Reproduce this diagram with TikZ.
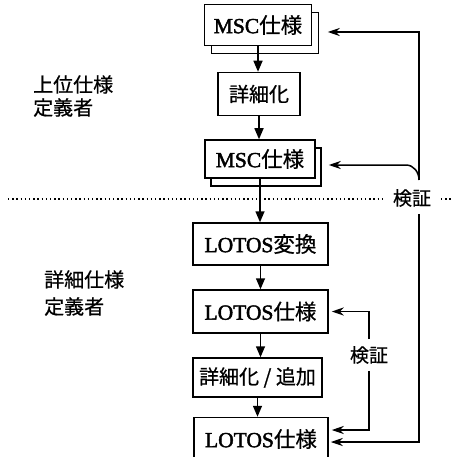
\documentclass[tikz,border=0pt]{standalone}
\usepackage{fontspec}
\setmainfont{Liberation Serif}[FakeBold=2]
\newfontfamily\cjk{Noto Sans CJK JP}[FakeBold=0.6]
\usetikzlibrary{arrows.meta,shadows,calc}
\newcommand\J[1]{{\cjk #1}}
\tikzset{
  base/.style={line width=1.5pt},
  boxnode/.style={base,draw=black,fill=white,inner sep=0pt,
    font=\fontsize{21.5}{24}\selectfont},
  docnode/.style 2 args={boxnode,copy shadow={shadow xshift=#1,shadow yshift=#2,
    fill=white,draw=black,line width=1.5pt}},
  down/.style={base,-{Triangle[length=11pt,width=9pt]}},
  fb/.style={base,-{Stealth[length=12pt,width=8pt,inset=4pt]}},
  kensho/.style={inner sep=7pt,font=\fontsize{19}{22}\selectfont\cjk},
  sidelabel/.style={align=left,anchor=west,inner sep=0pt,
    font=\fontsize{20}{24}\selectfont\cjk},
  dotline/.style={line width=1.6pt,dash pattern=on 1.4pt off 2.8pt}
}
\begin{document}
\begin{tikzpicture}[x=1pt,y=-1pt]
\useasboundingbox (0,0) rectangle (454,457);
\begin{scope}
\clip (0,0) rectangle (454,457);
% left labels
\node[sidelabel] (upper) at (33,96) {上位仕様\\[-1pt]定義者};
\node[sidelabel,font=\fontsize{20}{27}\selectfont\cjk] (lower) at (44,293) {詳細仕様\\定義者};
% dotted separator
\node[kensho] (k1) at (412,198) {検証};
\draw[dotline] (8,199) -- (383,199);
\draw[dotline] (441,199) -- (453,199);
% main boxes
\node[docnode={7pt}{-8pt},minimum width=107pt,minimum height=41pt] (msc1) at (258,25) {MSC\J{仕様}};
\node[boxnode,minimum width=82pt,minimum height=43pt,font=\fontsize{20}{24}\selectfont\cjk] (det1) at (259,94) {詳細化};
\node[docnode={6pt}{-8pt},minimum width=110pt,minimum height=38pt] (msc2) at (260,159) {MSC\J{仕様}};
\node[boxnode,minimum width=135pt,minimum height=42pt] (lt) at (260.5,244) {LOTOS\J{変換}};
\node[boxnode,minimum width=135pt,minimum height=43pt] (ls1) at (260.5,311.5) {LOTOS\J{仕様}};
\node[boxnode,minimum width=129pt,minimum height=39pt,font=\fontsize{20}{24}\selectfont\cjk] (det2) at (257.5,377.5) {詳細化 / 追加};
\node[boxnode,minimum width=134pt,minimum height=43pt] (ls2) at (261,439) {LOTOS\J{仕様}};
% down arrows
\draw[down] (msc1.south) -- (msc1.south |- det1.north);
\draw[down] (det1.south) -- (det1.south |- msc2.north);
\draw[down] (msc2.south) -- (msc2.south |- lt.north);
\draw[down] (lt.south) -- (lt.south |- ls1.north);
\draw[down] (ls1.south) -- (ls1.south |- det2.north);
\draw[down] (det2.south) -- (det2.south |- ls2.north);
% outer verification loop
\coordinate (vtop) at (419,32);
\coordinate (vbend) at (419,180);
\coordinate (vmid) at (406,165);
\coordinate (vbot) at (419,442);
\draw[fb,shorten >=15.5pt] (vbend) -- (vtop) -- (vtop -| msc1.east);
\draw[fb,shorten >=13pt] (vbend) to[out=90,in=0] (vmid) -- (vmid -| msc2.east);
\draw[fb,shorten >=2pt] (k1.south -| vbot) -- (vbot) -- (vbot -| ls2.east);
% inner verification loop
\node[kensho] (k2) at (369,355) {検証};
\coordinate (ib) at (369,430);
\draw[fb,shorten >=3pt] (k2.north) |- (ls1.east);
\draw[fb,shorten >=3pt] (k2.south) -- (ib) -- (ib -| ls2.east);
\end{scope}
\end{tikzpicture}
\end{document}
